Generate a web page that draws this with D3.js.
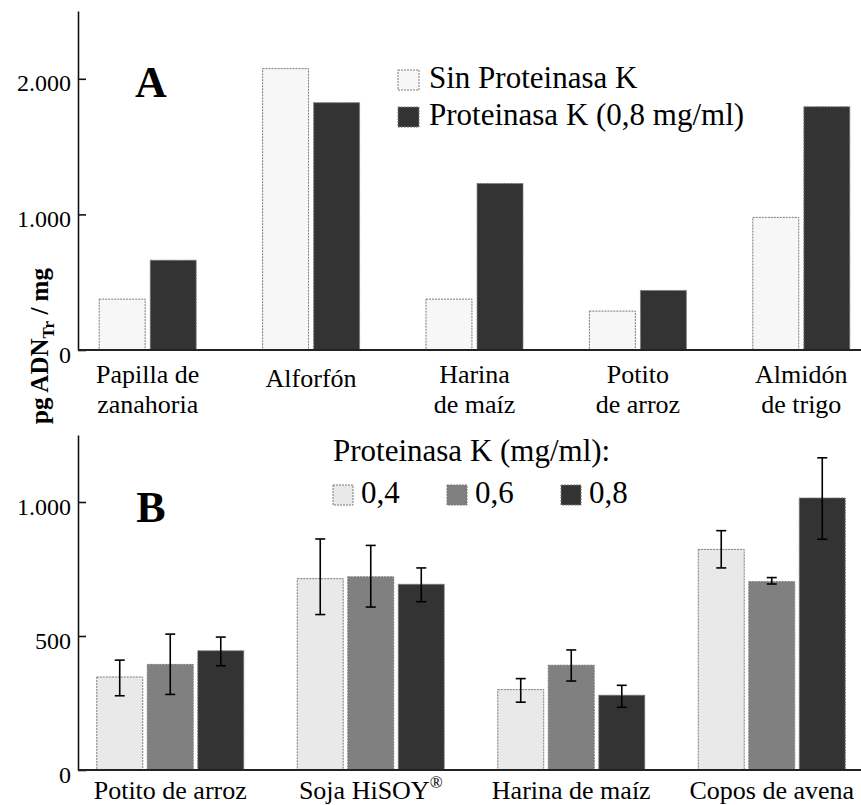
<!DOCTYPE html>
<html>
<head>
<meta charset="utf-8">
<script src="https://cdn.jsdelivr.net/npm/d3@7"></script>
<style>
  body { margin: 0; background: #fff; }
  svg { display: block; font-family: "Liberation Serif", "Times New Roman", serif; }
</style>
</head>
<body>
<svg id="chart" width="861" height="805"></svg>
<script>
// ---- Panel A data ----
const catsA = ["Papilla de zanahoria", "Alforfón", "Harina de maíz", "Potito de arroz", "Almidón de trigo"];
const labelsA = [["Papilla de", "zanahoria"], ["Alforfón"], ["Harina", "de maíz"], ["Potito", "de arroz"], ["Almidón", "de trigo"]];
const sinPK = [375, 2075, 375, 287, 978];
const pk08 = [662, 1824, 1228, 439, 1794];
const seriesA = ["Sin Proteinasa K", "Proteinasa K (0,8 mg/ml)"];
const ticksA = [0, 1000, 2000];

// ---- Panel B data ----
const catsB = ["Potito de arroz", "Soja HiSOY", "Harina de maíz", "Copos de avena"];
const seriesB = ["0,4", "0,6", "0,8"];
const b04 = [347, 714, 300, 823];
const b04Low = [277, 580, 253, 754];
const b04High = [410, 862, 341, 893];
const b06 = [394, 721, 391, 703];
const b06Low = [282, 608, 332, 694];
const b06High = [507, 838, 448, 718];
const b08 = [445, 693, 279, 1015];
const b08Low = [389, 628, 234, 861];
const b08High = [496, 754, 316, 1165];
const ticksB = [0, 500, 1000];

const svg = d3.select("#chart");
const loc = d3.formatLocale({decimal: ",", thousands: ".", grouping: [3], currency: ["", ""]});
const fmt = loc.format(",d");
const barStroke = "#7a7a7a";
const AXX = 78, RIGHT = 861;

// ================= Panel A =================
const yA = d3.scaleLinear().domain([0, 2500]).range([350, 11]);
const xA = d3.scaleBand().domain(catsA).range([66, 883]).paddingInner(0).paddingOuter(0);
const subA = d3.scaleBand().domain(seriesA).range([-48.5, 48.5]).paddingInner(0.1);
const colA = d3.scaleOrdinal().domain(seriesA).range(["#f7f7f7", "#333333"]);

const rowsA = catsA.map((c, i) => ({cat: c, vals: [{s: seriesA[0], v: sinPK[i]}, {s: seriesA[1], v: pk08[i]}]}));
const gA = svg.append("g");
gA.selectAll("g.grp").data(rowsA).join("g")
  .attr("transform", d => `translate(${xA(d.cat) + xA.bandwidth() / 2},0)`)
  .selectAll("rect").data(d => d.vals).join("rect")
  .attr("x", d => subA(d.s))
  .attr("width", subA.bandwidth())
  .attr("y", d => yA(d.v))
  .attr("height", d => yA(0) - yA(d.v))
  .attr("fill", d => colA(d.s))
  .attr("stroke", barStroke).attr("stroke-width", 1).attr("stroke-dasharray", "2,1");

const axA = gA.append("g").attr("transform", `translate(${AXX},0)`)
  .call(d3.axisLeft(yA).tickValues(ticksA).tickFormat(fmt).tickSize(-8).tickSizeOuter(0).tickPadding(7));
axA.select(".domain").attr("stroke", "#111").attr("stroke-width", 1.6);
axA.selectAll(".tick line").attr("stroke", "#111").attr("stroke-width", 1.6);
axA.selectAll(".tick text").attr("font-size", 24).attr("fill", "#000").attr("font-family", "Liberation Serif").attr("dy", "0.5em");

gA.append("line").attr("x1", AXX).attr("x2", RIGHT).attr("y1", yA(0)).attr("y2", yA(0))
  .attr("stroke", "#222").attr("stroke-width", 2);

labelsA.forEach((lines, i) => {
  const t = gA.append("text").attr("text-anchor", "middle").attr("font-size", 26)
    .attr("x", xA(catsA[i]) + xA.bandwidth() / 2);
  if (lines.length === 1) {
    t.attr("y", 387).text(lines[0]);
  } else {
    lines.forEach((l, j) => t.append("tspan").attr("x", xA(catsA[i]) + xA.bandwidth() / 2).attr("y", 383 + j * 30).text(l));
  }
});

gA.append("text").attr("x", 151).attr("y", 97).attr("text-anchor", "middle")
  .attr("font-size", 44).attr("font-weight", "bold").text("A");

// Legend A
seriesA.forEach((s, i) => {
  gA.append("rect").attr("x", 398).attr("y", 70 + i * 37).attr("width", 21).attr("height", 20)
    .attr("fill", colA(s)).attr("stroke", barStroke).attr("stroke-dasharray", "2,1");
  gA.append("text").attr("x", 429).attr("y", 88 + i * 37).attr("font-size", 31).text(s);
});

// Y label
const yl = svg.append("text").attr("transform", "translate(48,346) rotate(-90)")
  .attr("text-anchor", "middle").attr("font-size", 25).attr("font-weight", "bold");
yl.append("tspan").text("pg ADN");
yl.append("tspan").attr("font-size", 17).attr("dy", 6).text("Tr");
yl.append("tspan").attr("dy", -6).text(" / mg");

// ================= Panel B =================
const yB = d3.scaleLinear().domain([0, 1250]).range([770, 435]);
const xB = d3.scaleBand().domain(catsB).range([70, 872]).paddingInner(0).paddingOuter(0);
const subB = d3.scaleBand().domain(seriesB).range([-73.5, 73.5]).paddingInner(0.09);
const colB = d3.scaleOrdinal().domain(seriesB).range(["#e9e9e9", "#808080", "#333333"]);

const vals = [b04, b06, b08], lows = [b04Low, b06Low, b08Low], highs = [b04High, b06High, b08High];
const rowsB = catsB.map((c, i) => ({cat: c, vals: seriesB.map((s, k) => ({s, v: vals[k][i], lo: lows[k][i], hi: highs[k][i]}))}));

const gB = svg.append("g");
const grpB = gB.selectAll("g.grp").data(rowsB).join("g")
  .attr("transform", d => `translate(${xB(d.cat) + xB.bandwidth() / 2},0)`);
grpB.selectAll("rect").data(d => d.vals).join("rect")
  .attr("x", d => subB(d.s))
  .attr("width", subB.bandwidth())
  .attr("y", d => yB(d.v))
  .attr("height", d => yB(0) - yB(d.v))
  .attr("fill", d => colB(d.s))
  .attr("stroke", barStroke).attr("stroke-width", 1).attr("stroke-dasharray", "2,1");

const eb = grpB.selectAll("g.err").data(d => d.vals).join("g")
  .attr("transform", d => `translate(${subB(d.s) + subB.bandwidth() / 2},0)`)
  .attr("stroke", "#000").attr("stroke-width", 1.6);
eb.append("line").attr("x1", 0).attr("x2", 0).attr("y1", d => yB(d.lo)).attr("y2", d => yB(d.hi));
eb.append("line").attr("x1", -5).attr("x2", 5).attr("y1", d => yB(d.lo)).attr("y2", d => yB(d.lo));
eb.append("line").attr("x1", -5).attr("x2", 5).attr("y1", d => yB(d.hi)).attr("y2", d => yB(d.hi));

const axB = gB.append("g").attr("transform", `translate(${AXX},0)`)
  .call(d3.axisLeft(yB).tickValues(ticksB).tickFormat(fmt).tickSize(-8).tickSizeOuter(0).tickPadding(7));
axB.select(".domain").attr("stroke", "#111").attr("stroke-width", 1.6);
axB.selectAll(".tick line").attr("stroke", "#111").attr("stroke-width", 1.6);
axB.selectAll(".tick text").attr("font-size", 24).attr("fill", "#000").attr("font-family", "Liberation Serif").attr("dy", "0.5em");

gB.append("line").attr("x1", AXX).attr("x2", RIGHT).attr("y1", yB(0)).attr("y2", yB(0))
  .attr("stroke", "#222").attr("stroke-width", 2);

catsB.forEach((c, i) => {
  const t = gB.append("text").attr("text-anchor", "middle").attr("font-size", 26)
    .attr("x", xB(c) + xB.bandwidth() / 2).attr("y", 799).text(c);
  if (c === "Soja HiSOY") t.append("tspan").attr("font-size", 17).attr("dy", -11).text("®");
});

gB.append("text").attr("x", 151).attr("y", 522).attr("text-anchor", "middle")
  .attr("font-size", 44).attr("font-weight", "bold").text("B");

// Legend B
gB.append("text").attr("x", 333).attr("y", 461).attr("font-size", 31).text("Proteinasa K (mg/ml):");
const legX = [333, 447, 561];
seriesB.forEach((s, k) => {
  gB.append("rect").attr("x", legX[k]).attr("y", 485).attr("width", 20).attr("height", 20)
    .attr("fill", colB(s)).attr("stroke", barStroke).attr("stroke-dasharray", "2,1");
  gB.append("text").attr("x", legX[k] + 28).attr("y", 503).attr("font-size", 31).text(s);
});
</script>
</body>
</html>
